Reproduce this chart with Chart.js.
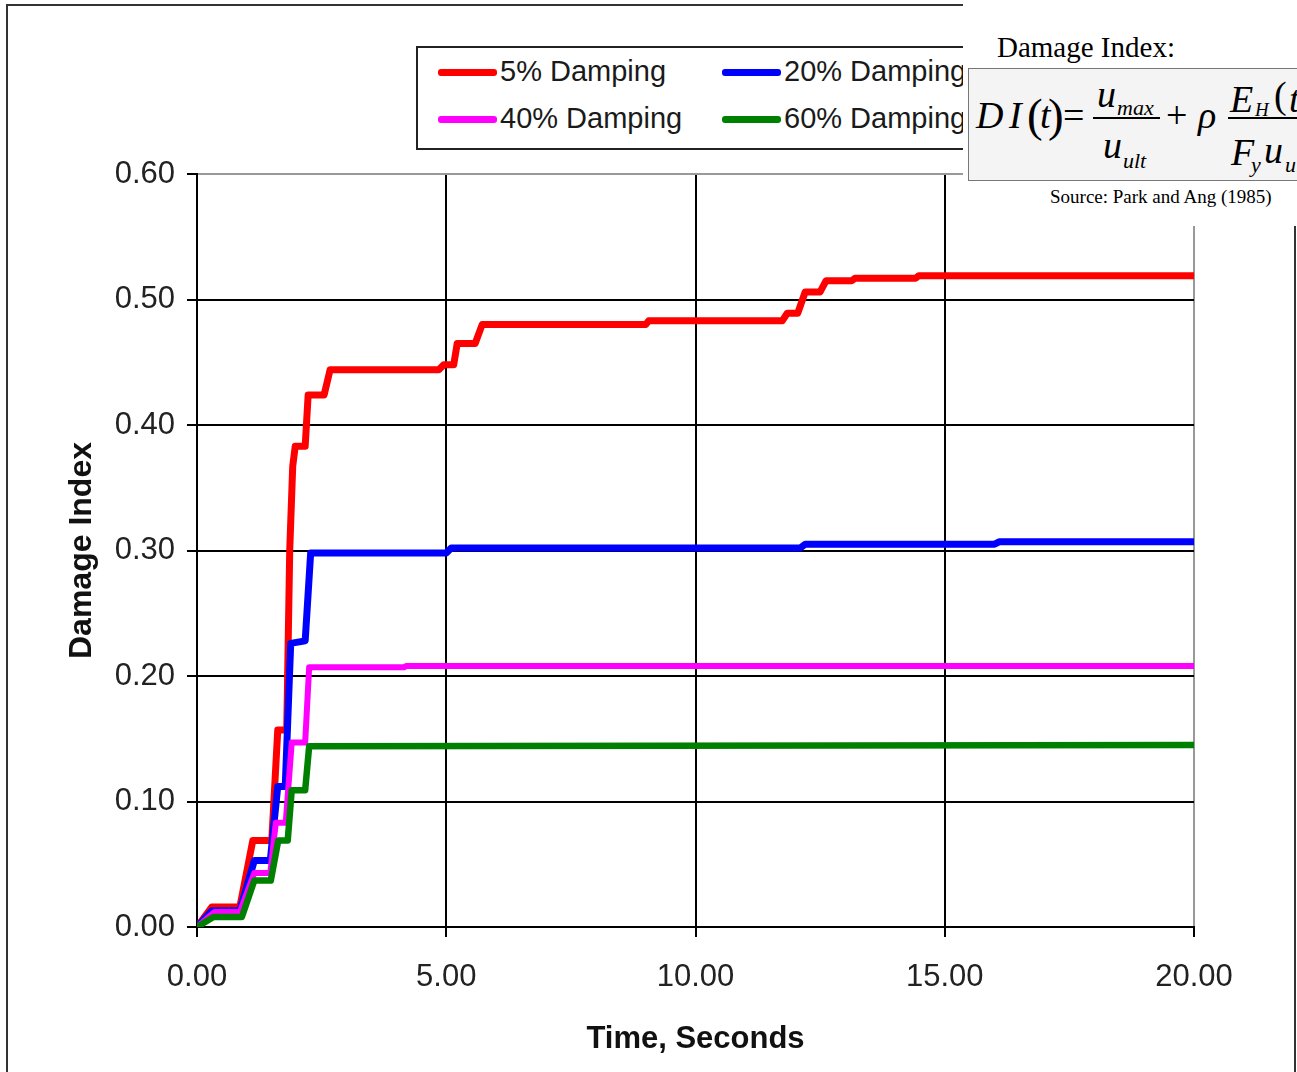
<!DOCTYPE html>
<html><head><meta charset="utf-8">
<script src="https://cdn.jsdelivr.net/npm/chart.js@4.4.1/dist/chart.umd.min.js"></script>
<style>
html,body{margin:0;padding:0;background:#fff;width:1297px;height:1072px;overflow:hidden;position:relative;}
#frame{position:absolute;left:6px;top:4px;width:1290px;height:1200px;border:2px solid #333;box-sizing:border-box;}
#c{position:absolute;left:0;top:0;}
#legendBox{position:absolute;left:416px;top:46px;width:620px;height:104px;border:2px solid #222;box-sizing:border-box;background:#fff;}
.sw{position:absolute;height:7px;width:59px;border-radius:3px;}
.lt{position:absolute;font-family:"Liberation Sans",Arial,sans-serif;font-size:29px;line-height:29px;color:#1a1a1a;white-space:nowrap;}
#overlay{position:absolute;left:963px;top:0;width:334px;height:226px;background:#fff;overflow:hidden;}
#fbox{position:absolute;left:5px;top:68px;width:420px;height:113px;background:#f4f4f4;border:1.5px solid #777;box-sizing:border-box;}
.m{position:absolute;font-family:"Liberation Serif","Times New Roman",serif;white-space:nowrap;color:#000;}
.bar{position:absolute;height:1.6px;background:#000;}
</style></head><body>
<div id="frame"></div>
<canvas id="c" width="1297" height="1072"></canvas>
<div id="legendBox"></div>
<div id="overlay"><div id="fbox"></div></div>
<script>
// ---- data (time in seconds, damage index) ----
const seriesLabels = ['5% Damping','20% Damping','40% Damping','60% Damping'];
const seriesColors = ['#ff0000','#0000ff','#ff00ff','#008000'];

const t5 = [0,0.3,0.86,1.12,1.5,1.62,1.80,1.86,1.92,1.97,2.17,2.23,2.55,2.67,4.85,4.95,5.15,5.22,5.58,5.72,9.0,9.06,11.74,11.84,12.05,12.2,12.5,12.62,13.14,13.2,14.42,14.48,20];
const d5 = [0,0.016,0.016,0.069,0.069,0.157,0.157,0.300,0.367,0.383,0.383,0.424,0.424,0.444,0.444,0.448,0.448,0.465,0.465,0.480,0.480,0.483,0.483,0.489,0.489,0.506,0.506,0.515,0.515,0.517,0.517,0.519,0.519];

const t20 = [0,0.3,0.86,1.15,1.47,1.62,1.77,1.88,2.17,2.28,5.0,5.1,12.1,12.2,16.0,16.1,20];
const d20 = [0,0.013,0.013,0.053,0.053,0.112,0.112,0.226,0.228,0.298,0.298,0.302,0.302,0.305,0.305,0.307,0.307];

const t40 = [0,0.35,0.86,1.15,1.47,1.58,1.78,1.9,2.17,2.25,4.15,4.2,20];
const d40 = [0,0.012,0.012,0.043,0.043,0.083,0.083,0.147,0.147,0.207,0.207,0.208,0.208];

const t60 = [0,0.33,0.9,1.15,1.48,1.63,1.82,1.9,2.17,2.25,20];
const d60 = [0,0.008,0.008,0.037,0.037,0.069,0.069,0.109,0.109,0.144,0.145];

const xTickValues = [0,5,10,15,20];
const yTickValues = [0,0.1,0.2,0.3,0.4,0.5,0.6];
const xTitle = 'Time, Seconds';
const yTitle = 'Damage Index';

const times = [t5,t20,t40,t60];
const vals = [d5,d20,d40,d60];
const widths = [7,7,6,6.5];

function pts(t,d){return t.map((x,i)=>({x:x,y:d[i]}));}

const datasets = seriesLabels.map((lab,i)=>({
  label: lab,
  data: pts(times[i], vals[i]),
  borderColor: seriesColors[i],
  backgroundColor: seriesColors[i],
  borderWidth: widths[i],
  pointRadius: 0,
  tension: 0,
  fill: false,
  borderJoinStyle: 'round',
  order: 4 - i
}));

const sansFam = '"Liberation Sans", Arial, sans-serif';

new Chart(document.getElementById('c'), {
  type: 'line',
  data: { datasets },
  options: {
    responsive: false,
    animation: false,
    devicePixelRatio: 1,
    layout: { padding: { left: 0, top: 174, right: 103, bottom: 0 } },
    plugins: { legend: { display: false }, tooltip: { enabled: false } },
    scales: {
      x: {
        type: 'linear', min: 0, max: 20,
        afterFit(s){ s.height = 145; },
        afterBuildTicks(s){ s.ticks = xTickValues.map(v=>({value:v})); },
        ticks: { callback: v => Number(v).toFixed(2), font: { family: sansFam, size: 31 }, color: '#222', padding: 22, maxRotation: 0, autoSkip: false },
        grid: { color: c => (c.tick && c.tick.value === 20) ? '#999' : '#000', lineWidth: 2, tickLength: 10, tickColor: '#000', tickWidth: 2 },
        border: { color: '#000', width: 2 },
        title: { display: true, text: xTitle, font: { family: sansFam, size: 31, weight: 'bold' }, color: '#111', padding: { top: 0, bottom: 14 } }
      },
      y: {
        type: 'linear', min: 0, max: 0.6,
        afterFit(s){ s.width = 197; },
        afterBuildTicks(s){ s.ticks = yTickValues.map(v=>({value:v})); },
        ticks: { callback: v => Number(v).toFixed(2), font: { family: sansFam, size: 31 }, color: '#222', padding: 12, autoSkip: false },
        grid: { color: c => (c.tick && Math.abs(c.tick.value - 0.6) < 1e-9) ? '#999' : '#000', lineWidth: 2, tickLength: 10, tickColor: '#000', tickWidth: 2 },
        border: { color: '#000', width: 2 },
        title: { display: true, text: yTitle, font: { family: sansFam, size: 32, weight: 'bold' }, color: '#111', padding: { top: 63, bottom: 0 } }
      }
    }
  }
});

// ---- legend (HTML, built from the dataset labels/colours) ----
const legendPos = [[438,72],[722,72],[438,119],[722,119]];
const legendTextBase = [81,81,128,128];
seriesLabels.forEach((lab,i)=>{
  const sw = document.createElement('div');
  sw.className = 'sw';
  sw.style.left = legendPos[i][0] + 'px';
  sw.style.top = (legendPos[i][1] - 3.5) + 'px';
  sw.style.background = seriesColors[i];
  document.body.insertBefore(sw, document.getElementById('overlay'));
  const tx = document.createElement('div');
  tx.className = 'lt';
  tx.textContent = lab;
  tx.style.left = (legendPos[i][0] + 62) + 'px';
  tx.style.top = (legendTextBase[i] - 24.5) + 'px';
  document.body.insertBefore(tx, document.getElementById('overlay'));
});

// ---- formula overlay ----
const ov = document.getElementById('overlay');
const OX = 963;
function put(text, x, base, size, italic){
  const s = document.createElement('div');
  s.className = 'm';
  s.textContent = text;
  s.style.fontSize = size + 'px';
  s.style.lineHeight = size + 'px';
  s.style.fontStyle = italic ? 'italic' : 'normal';
  s.style.left = (x - OX) + 'px';
  s.style.top = (base - 0.8375 * size) + 'px';
  ov.appendChild(s);
}
function bar(x1, x2, y){
  const b = document.createElement('div');
  b.className = 'bar';
  b.style.left = (x1 - OX) + 'px';
  b.style.width = (x2 - x1) + 'px';
  b.style.top = (y - 0.8) + 'px';
  ov.appendChild(b);
}
put('Damage Index:', 997, 57, 29, false);
put('D', 976, 128, 38, true);
put('I', 1009, 128, 38, true);
put('(', 1027, 131, 47, false);
put('t', 1040, 128, 38, true);
put(')', 1048, 131, 47, false);
put('=', 1063, 128, 38, false);
put('u', 1097, 107, 38, true);
put('max', 1117, 115, 22, true);
bar(1093, 1160, 118);
put('u', 1103, 158, 38, true);
put('ult', 1123, 168, 22, true);
put('+', 1166, 128, 38, false);
put('\u03C1', 1198, 128, 38, true);
put('E', 1230, 112, 38, true);
put('H', 1255, 116, 19, true);
put('(', 1274, 108, 38, false);
put('t', 1289, 112, 38, true);
bar(1228, 1340, 118);
put('F', 1231, 165, 38, true);
put('y', 1251, 172, 22, true);
put('u', 1264, 163, 38, true);
put('ult', 1285, 172, 22, true);
put('Source: Park and Ang (1985)', 1050, 203, 19, false);
</script>
</body></html>
